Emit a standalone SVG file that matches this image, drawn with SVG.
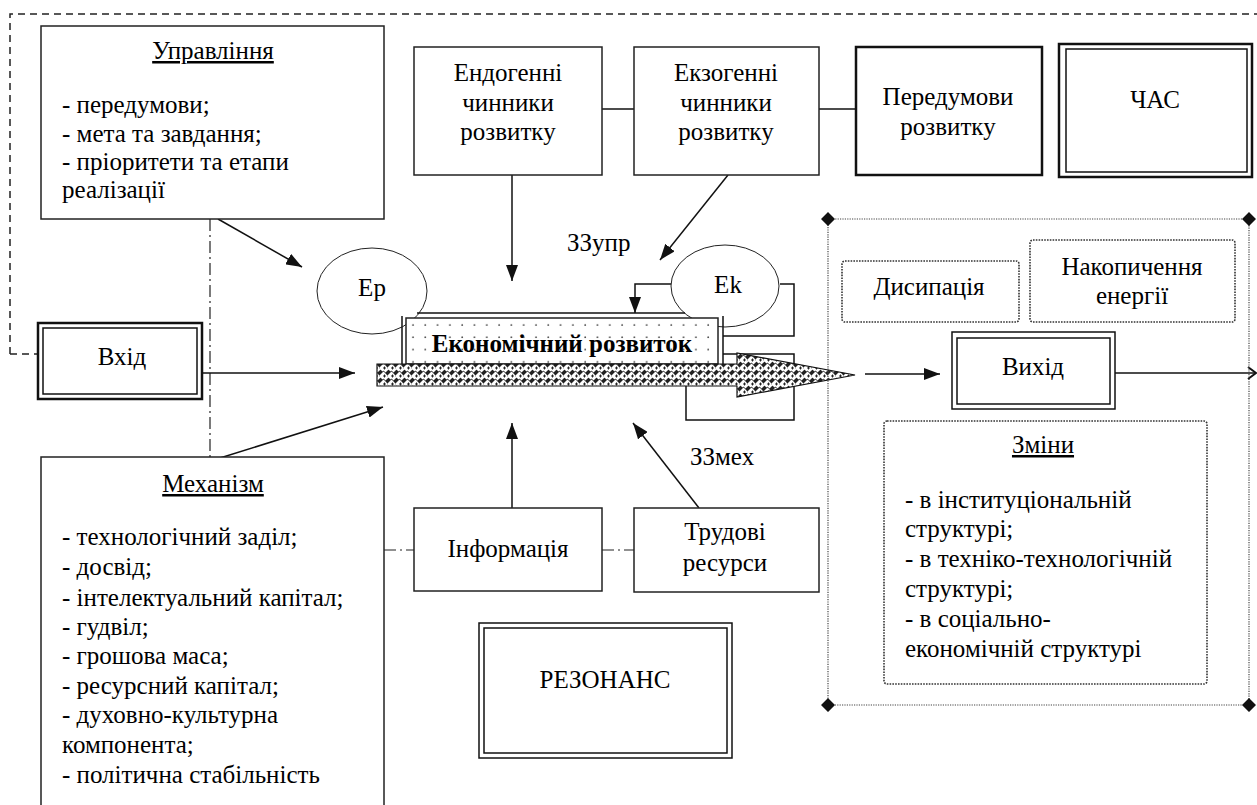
<svg xmlns="http://www.w3.org/2000/svg" width="1257" height="805" viewBox="0 0 1257 805" font-family="Liberation Serif" font-size="25">
<style>
.c{text-anchor:middle}
.u{text-decoration:underline}
.b{font-weight:bold}
.box{fill:#fff;stroke:#222;stroke-width:1.5}
.thick{fill:#fff;stroke:#111;stroke-width:2.5}
.dbl{fill:none;stroke:#111;stroke-width:1.5}
.dotbox{fill:#fff;stroke:#333;stroke-width:1.6;stroke-dasharray:1.6 1.2}
.ln{fill:none;stroke:#111;stroke-width:1.5}
.thin{fill:none;stroke:#222;stroke-width:1}
.dashdot{fill:none;stroke:#222;stroke-width:1.2;stroke-dasharray:12 4 2 4}
</style>
<defs>
<marker id="ah" viewBox="0 0 16 12" refX="16" refY="6" markerWidth="16" markerHeight="12" markerUnits="userSpaceOnUse" orient="auto">
<path d="M0,0 L16,6 L0,12 Z" fill="#111"/>
</marker>
<marker id="open" viewBox="0 0 10 14" refX="9" refY="7" markerWidth="10" markerHeight="14" markerUnits="userSpaceOnUse" orient="auto">
<path d="M1,1 L9,7 L1,13" fill="none" stroke="#111" stroke-width="2"/>
</marker>
<pattern id="dots" width="12.3" height="12.3" patternUnits="userSpaceOnUse" x="410" y="322">
<rect width="12.3" height="12.3" fill="#fff"/>
<circle cx="3" cy="3" r="0.9" fill="#444"/>
</pattern>
<pattern id="weave" width="8" height="8" patternUnits="userSpaceOnUse">
<rect width="8" height="8" fill="#222"/>
<path d="M0,3 L3,0 M1,4 L4,1 M4,0 L7,3 M5,-1 L9,3 M0,5 L3,8 M-1,4 L2,7 M4,8 L8,4 M5,9 L9,5" stroke="#fff" stroke-width="1.5"/>
</pattern>
</defs>

<g id="connectors">
<path d="M10,354 L10,14 L1257,14" fill="none" stroke="#222" stroke-width="1.5" stroke-dasharray="7 5"/>
<path d="M10,354 L40,354" fill="none" stroke="#222" stroke-width="1.5" stroke-dasharray="7 5"/>
<path class="dashdot" d="M210,219 L210,457"/>
<path class="dashdot" d="M384,550 L414,550"/>
<path class="dashdot" d="M602,550 L634,550"/>
<path class="ln" d="M602,109 L634,109"/>
<path class="ln" d="M819,109 L856,109"/>
<path class="ln" d="M218,219 L302,267" marker-end="url(#ah)"/>
<path class="ln" d="M220,458 L383,407" marker-end="url(#ah)"/>
<path class="ln" d="M202,373 L355,373" marker-end="url(#ah)"/>
<path class="ln" d="M512,175 L512,281" marker-end="url(#ah)"/>
<path class="ln" d="M728,175 L660,260" marker-end="url(#ah)"/>
<path class="ln" d="M512,508 L512,423" marker-end="url(#ah)"/>
<path class="ln" d="M699,508 L633,423" marker-end="url(#ah)"/>
<path class="ln" d="M865,374 L940,374" marker-end="url(#ah)"/>
<path class="ln" d="M1115,373 L1256,373" marker-end="url(#open)"/>
<path class="ln" d="M671,284 L635,284 L635,313" marker-end="url(#ah)"/>
<path class="ln" d="M780,284 L794,284 L794,336 L723,336"/>
<path class="ln" d="M723,354 L794,354 L794,420 L686,420 L686,356" marker-end="url(#ah)"/>
</g>

<g id="upravlinnia">
<rect class="box" x="41" y="26" width="343" height="193"/>
<text class="c u" x="213" y="59">Управління</text>
<text x="62" y="113">- передумови;</text>
<text x="62" y="142">- мета та завдання;</text>
<text x="62" y="170">- пріоритети та етапи</text>
<text x="62" y="198">реалізації</text>
</g>

<g id="endogenni">
<rect class="box" x="414" y="47" width="188" height="128"/>
<text class="c" x="508" y="81">Ендогенні</text>
<text class="c" x="508" y="111">чинники</text>
<text class="c" x="508" y="140">розвитку</text>
</g>

<g id="ekzogenni">
<rect class="box" x="634" y="47" width="185" height="128"/>
<text class="c" x="726" y="81">Екзогенні</text>
<text class="c" x="726" y="111">чинники</text>
<text class="c" x="726" y="140">розвитку</text>
</g>

<g id="peredumovy">
<rect class="thick" x="856" y="47" width="186" height="128"/>
<text class="c" x="948" y="105">Передумови</text>
<text class="c" x="948" y="135">розвитку</text>
</g>

<g id="chas">
<rect class="thick" x="1059" y="44" width="193" height="133" stroke-width="2"/>
<rect class="dbl" x="1066" y="49" width="181" height="123" stroke-width="2"/>
<text class="c" x="1155" y="108">ЧАС</text>
</g>

<g id="vhid">
<rect class="thick" x="38" y="323" width="164" height="76"/>
<rect class="dbl" x="43" y="328" width="154" height="66" stroke-width="2.5"/>
<text class="c" x="122" y="365">Вхід</text>
</g>

<g id="ep">
<ellipse cx="372" cy="291" rx="55" ry="43" class="thin" fill="#fff"/>
<text class="c" x="372" y="296">Ep</text>
</g>

<g id="ek">
<ellipse cx="725" cy="286" rx="54" ry="41" class="thin" fill="#fff"/>
<text class="c" x="728" y="293">Ek</text>
</g>

<g id="rozvytok">
<path class="ln" d="M417,313 L685,313"/>
<path class="ln" d="M402,316 L402,364 M723,316 L723,364"/>
<rect x="406" y="318" width="312" height="46" fill="url(#dots)" stroke="#222" stroke-width="1.5"/>
<polygon points="377,364 737,364 737,353 855,375 737,397 737,386 377,386" fill="url(#weave)" stroke="#111" stroke-width="1.2"/>
<text class="c b" x="562" y="352">Економічний розвиток</text>
</g>

<g id="labels">
<text x="567" y="251">ЗЗупр</text>
<text x="690" y="465">ЗЗмех</text>
</g>

<g id="output-area">
<rect x="828" y="219" width="421" height="486" fill="none" stroke="#444" stroke-width="1.2" stroke-dasharray="1.2 1.2"/>
<path d="M828,212 L835,219 L828,226 L821,219 Z M1249,212 L1256,219 L1249,226 L1242,219 Z M828,698 L835,705 L828,712 L821,705 Z M1249,698 L1256,705 L1249,712 L1242,705 Z" fill="#111"/>
</g>

<g id="dysypatsiia">
<rect class="dotbox" x="842" y="261" width="177" height="61" rx="3"/>
<text class="c" x="929" y="295">Дисипація</text>
</g>

<g id="nakopychennia">
<rect class="dotbox" x="1030" y="240" width="205" height="82" rx="3"/>
<text class="c" x="1132" y="275">Накопичення</text>
<text class="c" x="1132" y="304">енергії</text>
</g>

<g id="vyhid">
<rect class="dbl" x="952" y="332" width="163" height="77"/>
<rect class="dbl" x="957" y="338" width="153" height="66" stroke-width="2.5"/>
<text class="c" x="1033" y="375">Вихід</text>
</g>

<g id="zminy">
<rect class="dotbox" x="884" y="421" width="323" height="263" rx="3"/>
<text class="c u" x="1043" y="453">Зміни</text>
<text x="905" y="508">- в інституціональній</text>
<text x="905" y="537">структурі;</text>
<text x="905" y="567">- в техніко-технологічній</text>
<text x="905" y="597">структурі;</text>
<text x="905" y="627">- в соціально-</text>
<text x="905" y="657">економічній структурі</text>
</g>

<g id="mekhanizm">
<rect class="box" x="41" y="457" width="343" height="360"/>
<text class="c u" x="213" y="492">Механізм</text>
<text x="62" y="545">- технологічний заділ;</text>
<text x="62" y="575">- досвід;</text>
<text x="62" y="606">- інтелектуальний капітал;</text>
<text x="62" y="635">- гудвіл;</text>
<text x="62" y="664">- грошова маса;</text>
<text x="62" y="694">- ресурсний капітал;</text>
<text x="62" y="723">- духовно-культурна</text>
<text x="62" y="753">компонента;</text>
<text x="62" y="783">- політична стабільність</text>
</g>

<g id="informatsiia">
<rect class="box" x="414" y="508" width="188" height="83"/>
<text class="c" x="508" y="557">Інформація</text>
</g>

<g id="trudovi">
<rect class="box" x="634" y="508" width="185" height="84"/>
<text class="c" x="725" y="540">Трудові</text>
<text class="c" x="725" y="571">ресурси</text>
</g>

<g id="rezonans">
<rect class="dbl" x="479" y="623" width="253" height="135"/>
<rect class="dbl" x="484" y="628" width="243" height="125"/>
<text class="c" x="605" y="688">РЕЗОНАНС</text>
</g>
</svg>
